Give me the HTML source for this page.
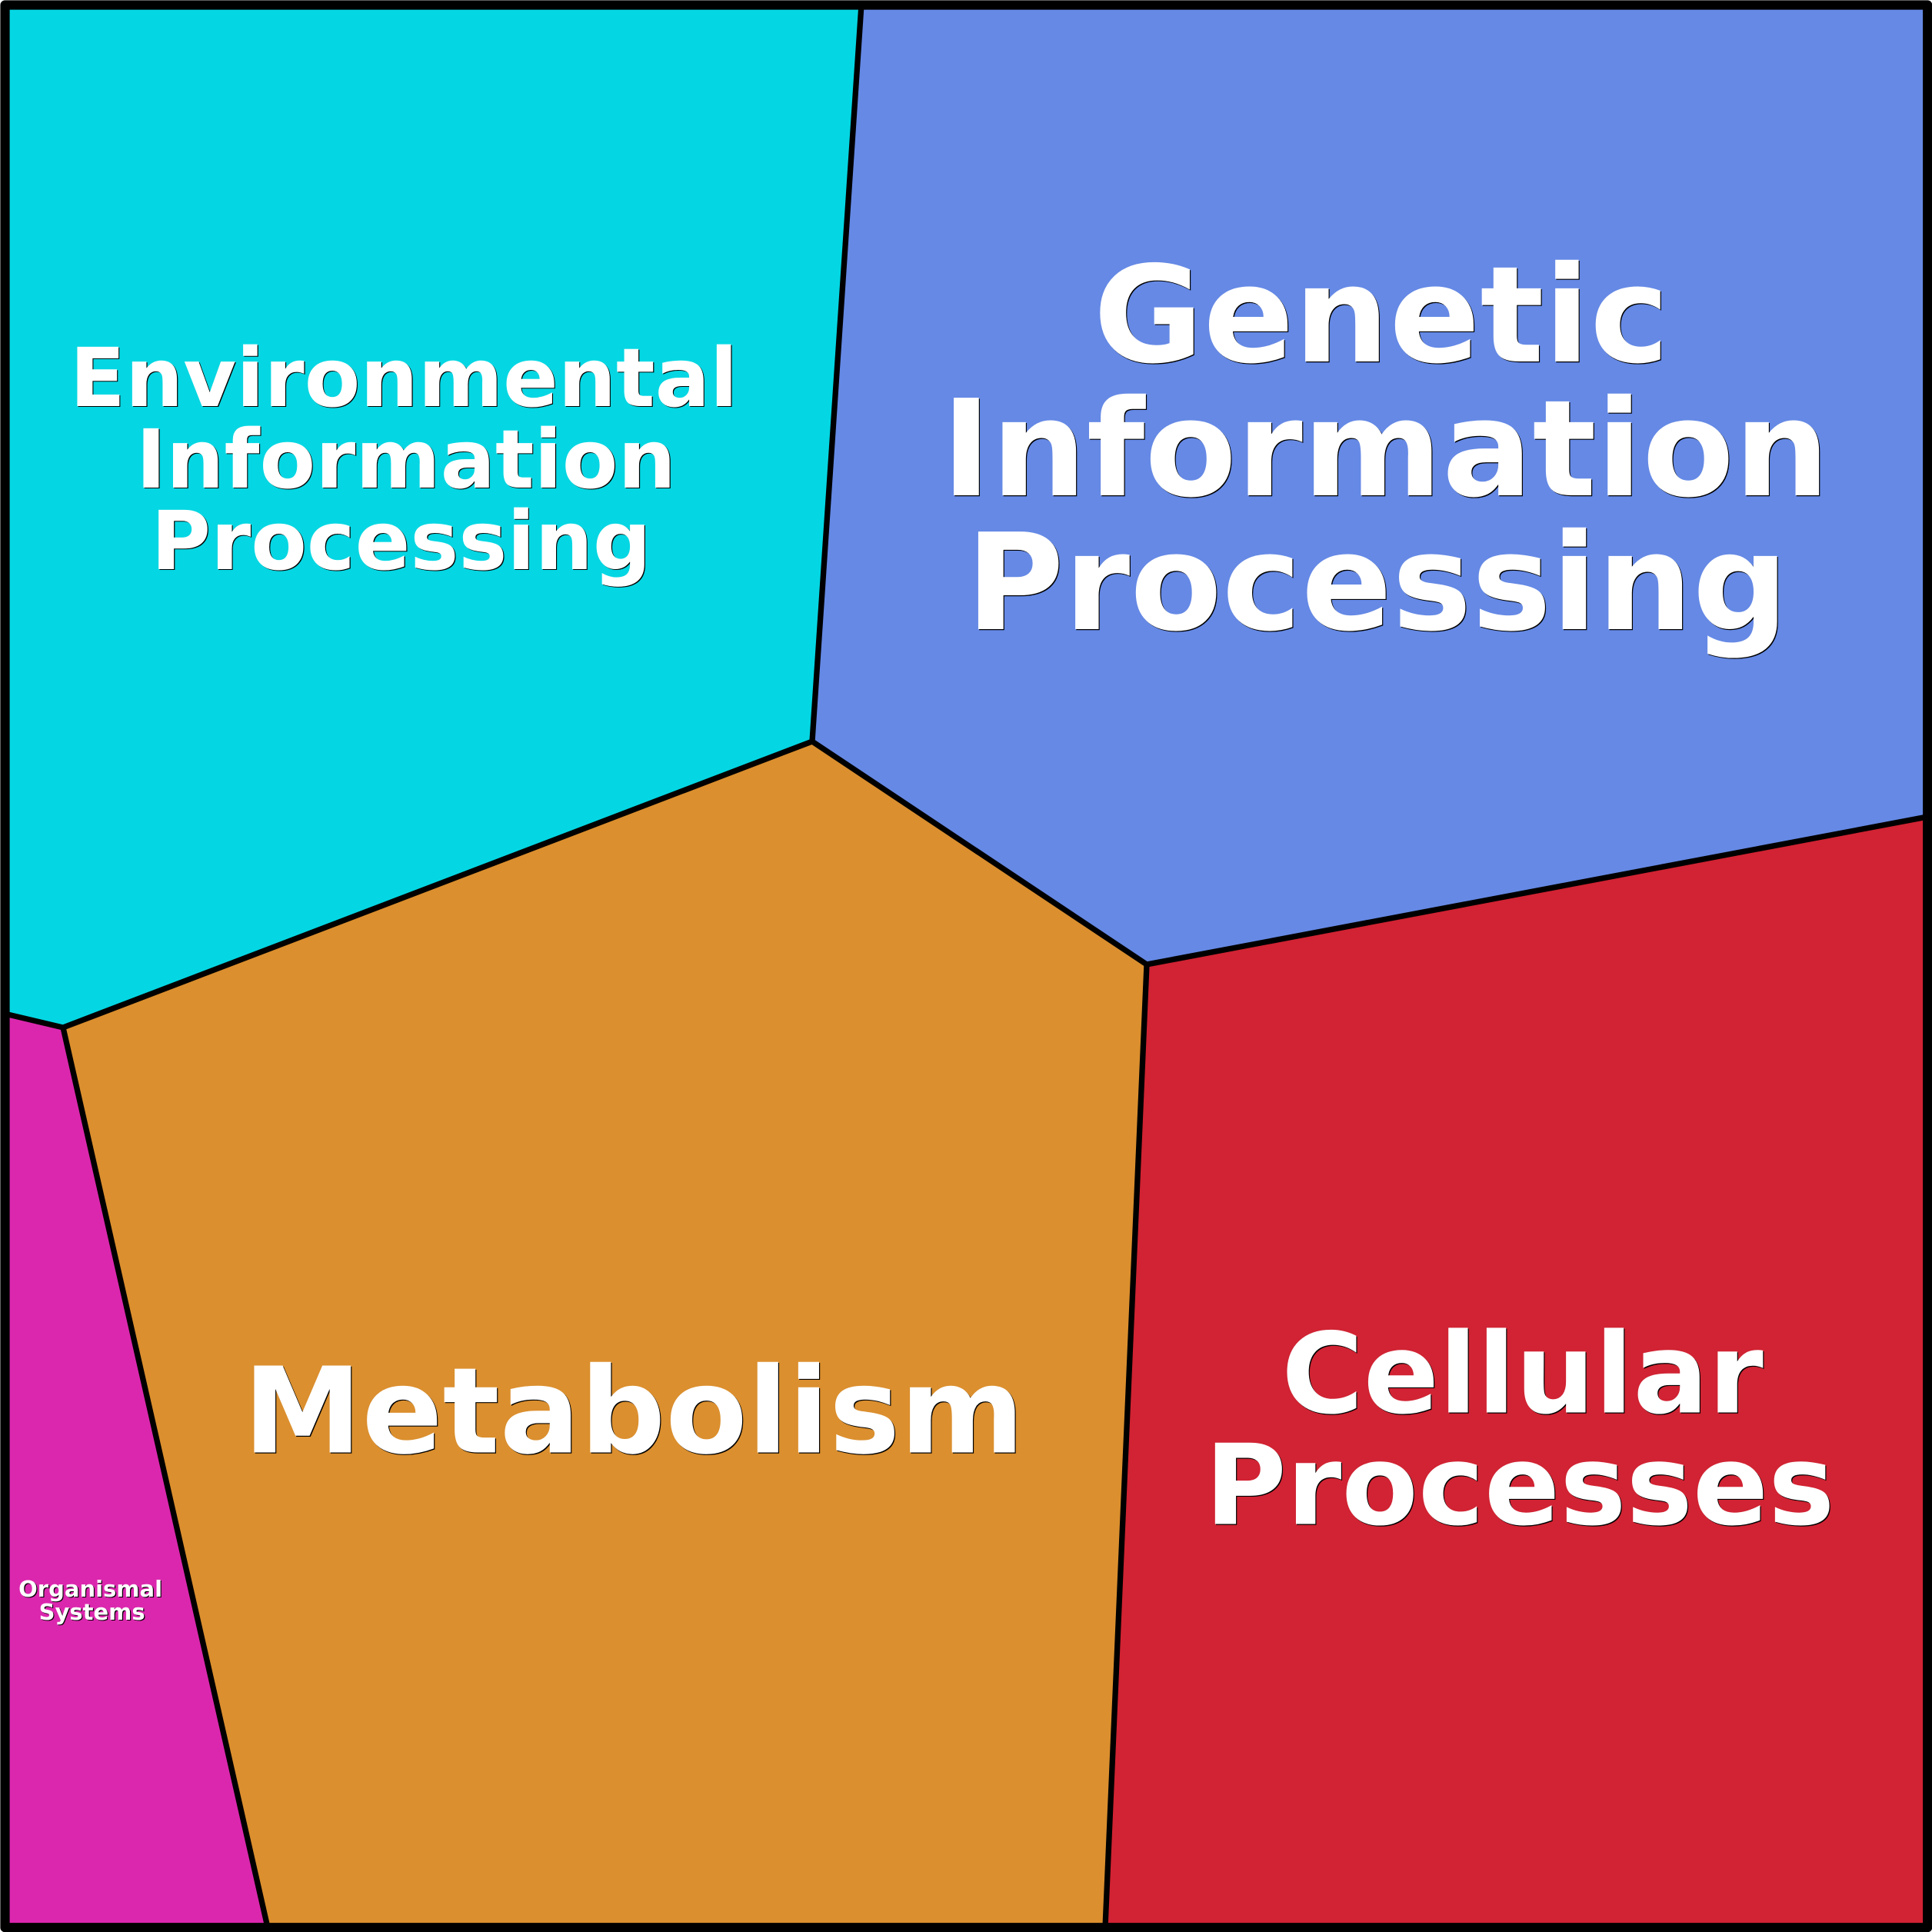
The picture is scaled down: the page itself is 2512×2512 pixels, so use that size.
<!DOCTYPE html>
<html><head><meta charset="utf-8"><style>
html,body{margin:0;padding:0;background:#fff}
svg{display:block}
text{font-family:"DejaVu Sans",sans-serif;font-weight:700;text-anchor:middle;text-rendering:geometricPrecision}
</style></head><body>
<svg width="2512" height="2512" viewBox="0 0 2512 2512" xmlns="http://www.w3.org/2000/svg">
<rect width="2512" height="2512" fill="#fff"/>
<polygon points="6,6 1120,6 1056,964 82,1336 6,1318" fill="#04D7E3"/>
<polygon points="1120,6 2506,6 2506,1062 1491,1254 1056,964" fill="#6589E5"/>
<polygon points="82,1336 1056,964 1491,1254 1437,2506 348,2506" fill="#DB8F2E"/>
<polygon points="1491,1254 2506,1062 2506,2506 1437,2506" fill="#D12333"/>
<polygon points="6,1318 82,1336 348,2506 6,2506" fill="#DB27AE"/>
<g fill="none" stroke="#000" stroke-width="7.3" stroke-linejoin="miter">
<polyline points="1120,6 1056,964 82,1336 6,1318"/>
<polyline points="1056,964 1491,1254 2506,1062"/>
<polyline points="1491,1254 1437,2506"/>
<polyline points="82,1336 348,2506"/>
</g>
<rect x="6.5" y="6.5" width="2499.7" height="2499.7" fill="none" stroke="#000" stroke-width="12.2" stroke-linejoin="round"/>
<g fill="#000" transform="translate(1.2,1.2)">
<text font-size="105.8" x="525" y="528">Environmental</text>
<text font-size="105.8" x="527.8" y="634">Information</text>
<text font-size="105.8" x="521.6" y="740">Processing</text>
<text font-size="174" x="1796" y="470">Genetic</text>
<text font-size="174" x="1801.4" y="644">Information</text>
<text font-size="174" x="1790.6" y="818">Processing</text>
<text font-size="155" x="824" y="1888.5">Metabolism</text>
<text font-size="145" x="1979.5" y="1836.5">Cellular</text>
<text font-size="145" x="1976" y="1981.5">Processes</text>
<text font-size="29" x="117.6" y="2076">Organismal</text>
<text font-size="29" x="119.6" y="2106">Systems</text>
</g>
<g fill="#fff">
<text font-size="105.8" x="525" y="528">Environmental</text>
<text font-size="105.8" x="527.8" y="634">Information</text>
<text font-size="105.8" x="521.6" y="740">Processing</text>
<text font-size="174" x="1796" y="470">Genetic</text>
<text font-size="174" x="1801.4" y="644">Information</text>
<text font-size="174" x="1790.6" y="818">Processing</text>
<text font-size="155" x="824" y="1888.5">Metabolism</text>
<text font-size="145" x="1979.5" y="1836.5">Cellular</text>
<text font-size="145" x="1976" y="1981.5">Processes</text>
<text font-size="29" x="117.6" y="2076">Organismal</text>
<text font-size="29" x="119.6" y="2106">Systems</text>
</g>
</svg>
</body></html>
